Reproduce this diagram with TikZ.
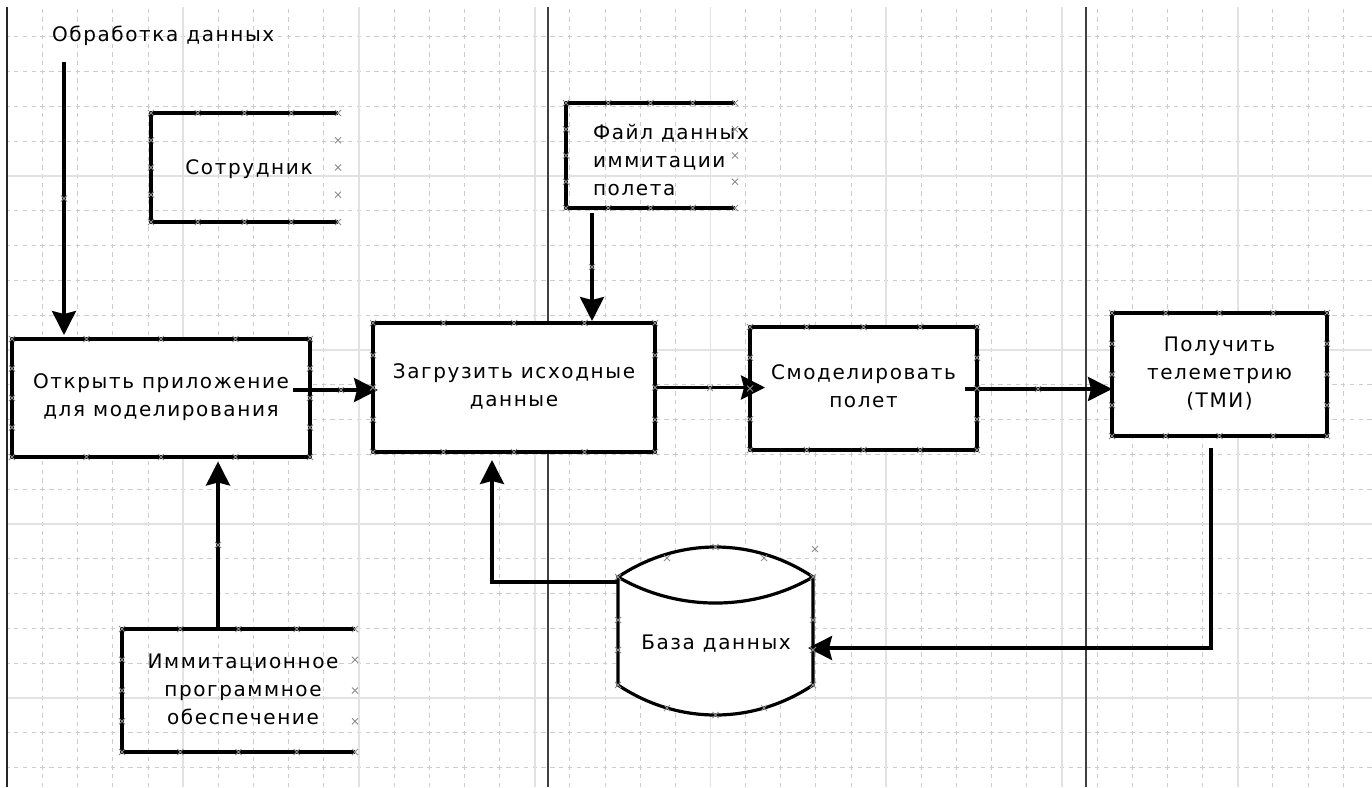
\documentclass[tikz,border=0pt]{standalone}
\usepackage{fontspec}
\newfontfamily\diafont{DejaVu Sans}[LetterSpace=8]
\usetikzlibrary{arrows.meta,calc}

\definecolor{gridminor}{HTML}{CCCCCC}
\definecolor{gridmajor}{HTML}{E2E2E2}
\definecolor{lane}{HTML}{404040}
\definecolor{cpt}{HTML}{8C8C8C}

% strut that fixes the first ascent and the last descent of every label
\newcommand{\labelstrut}{\rule[-5pt]{0pt}{21pt}}
% small cross marking a connection point
\newcommand{\cpmark}[1]{\draw[cpmark] (#1) +(-3,-3) -- +(3,3) +(-3,3) -- +(3,-3);}

\tikzset{
  lbl/.style={font=\diafont\fontsize{20}{28}\selectfont, inner sep=0pt, outer sep=0pt,
    align=center, execute at begin node=\labelstrut, execute at end node=\labelstrut},
  procbox/.style={lbl, draw, fill=white, line width=3.2pt},
  frame/.style={inner sep=0pt, outer sep=0pt},
  frameline/.style={line width=3.2pt},
  arr/.style={line width=3.2pt, -{Stealth[length=24pt, width=24pt, inset=3pt]}},
  cpmark/.style={draw=cpt, line width=0.8pt},
  minorx/.style={draw=gridminor, line width=1pt, dash pattern=on 4.39pt off 4.3975pt, dash phase=2.195pt},
  minory/.style={draw=gridminor, line width=1pt, dash pattern=on 4.35pt off 4.3475pt, dash phase=2.175pt},
  major/.style={draw=gridmajor, line width=1.6pt},
}

\begin{document}
\begin{tikzpicture}[x=1pt, y=-1pt]
\useasboundingbox (0,0) rectangle (1372,787);
\fill[white] (0,0) rectangle (1372,787);

% background grid
\begin{scope}
  \clip (7,7) rectangle (1372,787);
  \foreach \k [evaluate=\k as \xx using 7.5+35.15*\k] in {1,2,3,4,6,7,8,9,11,12,13,14,16,17,18,19,21,22,23,24,26,27,28,29,31,32,33,34,36,37,38}
    {\draw[minory] (\xx,2.2) -- (\xx,787);}
  \foreach \j [evaluate=\j as \yy using 2.2+34.79*\j] in {1,2,3,4,6,7,8,9,11,12,13,14,16,17,18,19,21,22}
    {\draw[minorx] (7.5,\yy) -- (1372,\yy);}
  \foreach \k [evaluate=\k as \xx using 7.5+35.15*\k] in {5,10,15,20,25,30,35}
    {\draw[major] (\xx,7) -- (\xx,787);}
  \foreach \j [evaluate=\j as \yy using 2.2+34.79*\j] in {5,10,15,20}
    {\draw[major] (7.5,\yy) -- (1372,\yy);}
\end{scope}

% lane separators
\draw[black!85, line width=2pt] (7,7) -- (7,787);
\draw[lane, line width=1.6pt] (548,7) -- (548,787);
\draw[lane, line width=1.6pt] (1086,7) -- (1086,787);

% title
\node[lbl, anchor=west] (title) at (52,36) {Обработка данных};

% open boxes
\node[frame, minimum width=187, minimum height=109] (staff) at (244.5,167.5) {};
\draw[frameline] (staff.north east) -- (staff.north west) -- (staff.south west) -- (staff.south east);
\node[lbl] (stafftxt) at (249,169) {Сотрудник};

\node[frame, minimum width=169, minimum height=105] (file) at (650.5,155.5) {};
\draw[frameline] (file.north east) -- (file.north west) -- (file.south west) -- (file.south east);
\node[lbl, align=left, anchor=west] (filetxt) at (593,162.5) {Файл данных\\иммитации\\полета};

\node[frame, minimum width=233, minimum height=123] (imit) at (238.5,690.5) {};
\draw[frameline] (imit.north east) -- (imit.north west) -- (imit.south west) -- (imit.south east);
\node[lbl] (imittxt) at (243,691.5) {Иммитационное\\программное\\обеспечение};

% process boxes
\node[procbox, minimum width=298, minimum height=118] (b1) at (161,398) {Открыть приложение\\для моделирования};
\node[procbox, minimum width=282, minimum height=129] (b2) at (514,387.5) {Загрузить исходные\\данные};
\node[procbox, minimum width=227, minimum height=123] (b3) at (863.5,388.5) {Смоделировать\\полет};
\node[procbox, minimum width=215, minimum height=123] (b4) at (1219.5,374.5) {Получить\\телеметрию\\(ТМИ)};

% database cylinder
\node[frame, minimum width=195, minimum height=108] (dbbody) at (715.5,631) {};
\draw[frameline, fill=white] (dbbody.north west) .. controls (678,537) and (753,537) .. (dbbody.north east)
  -- (dbbody.south east) .. controls (753,725) and (678,725) .. (dbbody.south west) -- cycle;
\draw[frameline] (dbbody.north west) .. controls (678,611.7) and (753,611.7) .. (dbbody.north east);
\node[lbl] (dbtxt) at (716,644) {База данных};

% connectors
\coordinate (a0) at (64,62);
\draw[arr, shorten >=4pt] (a0) -- (a0 |- b1.north);

\coordinate (fa0) at (592,213);
\draw[arr, shorten >=2pt] (fa0) -- (fa0 |- b2.north);

\coordinate (c0) at (293,390);
\draw[arr, shorten >=-5pt] (c0) -- (c0 -| b2.west);

\draw[arr, shorten >=-15pt] (b2.east) -- (b2.east -| b3.west);

\coordinate (e0) at (965,389);
\draw[arr] (e0) -- (e0 -| b4.west);

\coordinate (f0) at (1211,448);
\coordinate (f1) at (1211,648);
\draw[arr, shorten >=-5pt] (f0) -- (f1) -- (f1 -| dbbody.east);

\coordinate (g0) at ($(dbbody.north west)+(0,5)$);
\coordinate (g1) at (492,582);
\draw[arr, shorten >=8pt] (g0) -- (g1) -- (g1 |- b2.south);

\coordinate (h0) at (218,629);
\draw[arr, shorten >=4.5pt] (h0) -- (h0 |- b1.south);

% connection points
\foreach \n in {b1,b2,b3,b4,staff,file,imit} {
  \foreach \f in {0,0.25,0.5,0.75,1} {
    \cpmark{$(\n.north west)!\f!(\n.north east)$}
    \cpmark{$(\n.south west)!\f!(\n.south east)$}
  }
  \foreach \f in {0.25,0.5,0.75} {
    \cpmark{$(\n.north west)!\f!(\n.south west)$}
    \cpmark{$(\n.north east)!\f!(\n.south east)$}
  }
}
\foreach \px/\py in {618/577,667/558,715.5/547,764/558,813/577,
                     618/685,667/708,715.5/715,764/708,813/685,
                     618/620,618/650,813/620,813/650,815/549,
                     64/198.5,218/545,341/390,710/388,592/267,1038/389}
  {\cpmark{\px,\py}}
\end{tikzpicture}
\end{document}
